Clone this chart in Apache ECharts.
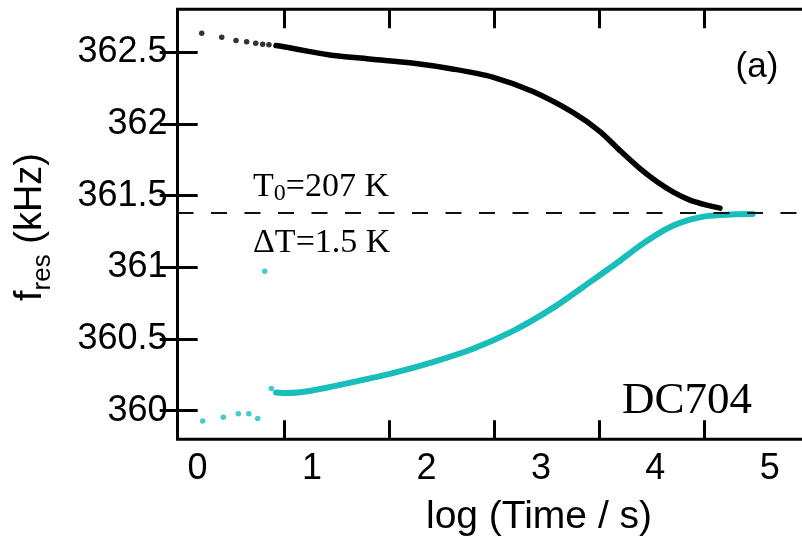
<!DOCTYPE html>
<html><head><meta charset="utf-8">
<script src="https://cdn.jsdelivr.net/npm/echarts@6/dist/echarts.min.js"></script>
<style>html,body{margin:0;padding:0;background:#fff}#c{width:802px;height:537px}</style>
</head><body><div id="c"></div>
<script>
// ---- data (log10 time in s, f_res in kHz) ----
const xTickValues = [1, 2, 3, 4, 5];
const xLabelValues = [0, 1, 2, 3, 4, 5];
const yTickValues = [360, 360.5, 361, 361.5, 362, 362.5];

const blackDotsX = [0.219, 0.409, 0.545, 0.646, 0.732, 0.798, 0.858];
const blackDotsY = [362.633, 362.605, 362.582, 362.573, 362.563, 362.556, 362.552];
const blackLineX = [0.925, 1.029, 1.248, 1.451, 1.834, 2.217, 2.601, 2.984, 3.367, 3.750, 4.005, 4.195, 4.385, 4.544, 4.702, 4.860, 5.019, 5.145];
const blackLineY = [362.547, 362.535, 362.505, 362.480, 362.452, 362.425, 362.384, 362.327, 362.226, 362.079, 361.947, 361.814, 361.688, 361.598, 361.524, 361.469, 361.434, 361.413];

const cyanDotsX = [0.228, 0.424, 0.567, 0.667, 0.751, 0.818, 0.880];
const cyanDotsY = [359.928, 359.953, 359.979, 359.979, 359.945, 360.972, 360.154];
const cyanLineX = [0.925, 1.027, 1.258, 1.643, 2.026, 2.408, 2.792, 3.175, 3.558, 3.942, 4.195, 4.385, 4.544, 4.702, 4.860, 5.019, 5.209, 5.456];
const cyanLineY = [360.127, 360.123, 360.139, 360.197, 360.260, 360.337, 360.430, 360.555, 360.717, 360.914, 361.046, 361.151, 361.228, 361.291, 361.333, 361.357, 361.367, 361.371];

const refLevel = 361.383;

const zip = (xs, ys) => xs.map((x, i) => [x, ys[i]]);
const BLACK = '#000000';
const CYAN = '#19BDBA';
const SANS = '"Liberation Sans", Arial, sans-serif';
const SERIF = '"Liberation Serif", "Times New Roman", serif';

const chart = echarts.init(document.getElementById('c'), null, {renderer: 'canvas'});
const tickStyle = {lineStyle: {color: BLACK, width: 3}, length: 19, inside: true};

chart.setOption({
  animation: false,
  backgroundColor: '#ffffff',
  grid: {left: 177.5, top: 9.3, width: 632.4, height: 430, show: true, containLabel: false,
         outerBoundsMode: 'none',
         borderColor: BLACK, borderWidth: 3, backgroundColor: 'transparent'},
  xAxis: [
    {type: 'value', position: 'bottom', min: -0.0114, max: 6.0,
     axisLine: {show: false}, splitLine: {show: false}, axisLabel: {show: false},
     axisTick: Object.assign({customValues: xTickValues}, tickStyle)},
    {type: 'value', position: 'top', min: -0.0114, max: 6.0,
     axisLine: {show: false}, splitLine: {show: false}, axisLabel: {show: false},
     axisTick: Object.assign({customValues: xTickValues}, tickStyle)},
    {type: 'value', position: 'bottom', min: -0.1747, max: 5.350,
     axisLine: {show: false}, splitLine: {show: false}, axisTick: {show: false},
     axisLabel: {customValues: xLabelValues, margin: 12, color: BLACK, fontSize: 36, fontFamily: SANS}}
  ],
  yAxis: [
    {type: 'value', position: 'left', min: 359.8, max: 362.8,
     axisLine: {show: false}, splitLine: {show: false},
     axisTick: Object.assign({customValues: yTickValues}, tickStyle),
     axisLabel: {customValues: yTickValues, margin: 10, color: BLACK, fontSize: 36, fontFamily: SANS}},
    {type: 'value', position: 'right', min: 359.8, max: 362.8,
     axisLine: {show: false}, splitLine: {show: false}, axisLabel: {show: false},
     axisTick: Object.assign({customValues: yTickValues}, tickStyle)}
  ],
  series: [
    {type: 'line', xAxisIndex: 0, yAxisIndex: 0, data: zip(blackLineX, blackLineY),
     showSymbol: false, smooth: 0.3, lineStyle: {color: BLACK, width: 5.5, cap: 'round', join: 'round'},
     silent: true, z: 3,
     markLine: {silent: true, symbol: 'none', label: {show: false},
       lineStyle: {color: '#111', width: 2, type: [16, 17.5]},
       data: [{yAxis: refLevel}]}},
    {type: 'scatter', xAxisIndex: 0, yAxisIndex: 0, data: zip(blackDotsX, blackDotsY),
     symbolSize: 5.5, itemStyle: {color: BLACK}, silent: true, z: 3},
    {type: 'line', xAxisIndex: 0, yAxisIndex: 0, data: zip(cyanLineX, cyanLineY),
     showSymbol: false, smooth: 0.3, lineStyle: {color: CYAN, width: 6, cap: 'round', join: 'round'},
     silent: true, z: 3},
    {type: 'scatter', xAxisIndex: 0, yAxisIndex: 0, data: zip(cyanDotsX, cyanDotsY),
     symbolSize: 5.5, itemStyle: {color: CYAN}, silent: true, z: 3}
  ],
  graphic: [
    {type: 'text', x: 32, y: 227, rotation: Math.PI / 2, silent: true,
     style: {text: '{f|f}{s|res}{f| (kHz)}', align: 'center', verticalAlign: 'middle',
       rich: {f: {fontSize: 38, fontFamily: SANS, fill: BLACK, verticalAlign: 'top', lineHeight: 40},
              s: {fontSize: 26, fontFamily: SANS, fill: BLACK, verticalAlign: 'top', lineHeight: 28, padding: [18, 0, 0, 0]}}}},
    {type: 'text', x: 539, y: 517, silent: true,
     style: {text: 'log (Time / s)', align: 'center', verticalAlign: 'middle', fontSize: 39, fontFamily: SANS, fill: BLACK}},
    {type: 'text', x: 757, y: 67, silent: true,
     style: {text: '(a)', align: 'center', verticalAlign: 'middle', fontSize: 35, fontFamily: SANS, fill: BLACK}},
    {type: 'text', x: 253, y: 168, silent: true,
     style: {text: 'T{s|0}=207 K', align: 'left', verticalAlign: 'top', fontSize: 34, fontFamily: SERIF, fill: BLACK,
       rich: {s: {fontSize: 24, fontFamily: SERIF, fill: BLACK, padding: [14, 0, 0, 0]}}}},
    {type: 'text', x: 253, y: 226, silent: true,
     style: {text: 'ΔT=1.5 K', align: 'left', verticalAlign: 'top', fontSize: 34, fontFamily: SERIF, fill: BLACK}},
    {type: 'text', x: 687, y: 401, silent: true,
     style: {text: 'DC704', align: 'center', verticalAlign: 'middle', fontSize: 45, fontFamily: SERIF, fill: BLACK}}
  ]
});
</script>
</body></html>
